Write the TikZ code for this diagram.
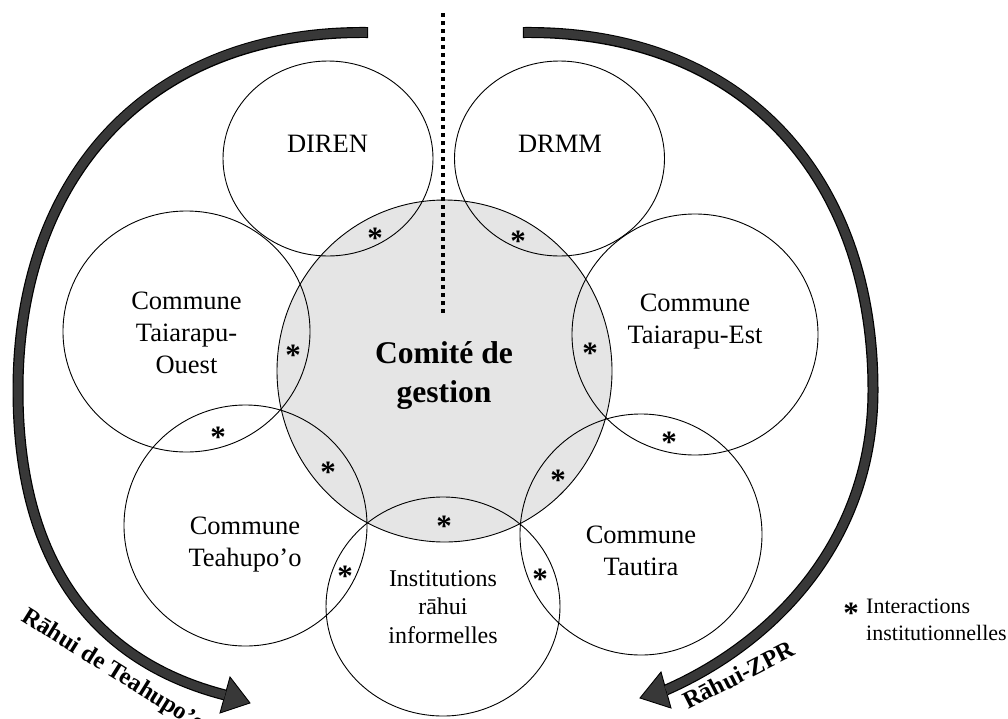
\documentclass[tikz,border=0pt]{standalone}
\usepackage{fontspec}
\setmainfont{Liberation Serif}
\usetikzlibrary{shapes.geometric}
\definecolor{ringgray}{HTML}{E5E5E5}
\definecolor{arrowgray}{HTML}{383838}
\begin{document}
\begin{tikzpicture}[x=1pt,y=-1pt,
  ring/.style={ellipse, draw=black, line width=0.9pt, inner sep=0pt, outer sep=0pt},
  lbl/.style={align=center, anchor=base, inner sep=0pt, font=\fontsize{26.5}{31.8}\selectfont},
  ast/.style={inner sep=0pt, anchor=center, yshift=-5pt, font=\fontsize{31}{31}\selectfont\bfseries},
  rot/.style={inner sep=0pt, font=\fontsize{24.5}{28}\selectfont\bfseries},
  band/.style={line width=8.6pt, draw=arrowgray, preaction={draw=black, line width=11pt, shorten <=-1.2pt}},
  head/.style={fill=arrowgray, draw=black, line width=0.9pt, line join=miter},
  dotline/.style={line width=4pt, dash pattern=on 4pt off 4pt}]
\useasboundingbox (0,0) rectangle (1008,718);
% central committee circle
\node[ring, fill=ringgray, minimum width=335pt, minimum height=342pt] (comite) at (444.5,371) {};
% surrounding circles
\node[ring, minimum width=210pt, minimum height=195pt] (diren) at (328,158.5) {};
\node[ring, minimum width=210pt, minimum height=195pt] (drmm) at (559.5,158.5) {};
\node[ring, minimum width=247pt, minimum height=241pt] (ouest) at (186.5,331.5) {};
\node[ring, minimum width=246pt, minimum height=241pt] (est) at (695,334.5) {};
\node[ring, minimum width=243pt, minimum height=241pt] (teahupoo) at (245.5,525.5) {};
\node[ring, minimum width=242pt, minimum height=241pt] (tautira) at (641,534.5) {};
\node[ring, minimum width=234pt, minimum height=219pt] (inst) at (443,606.5) {};
% dotted divider
\coordinate (dtop) at (443,13);
\coordinate (dbot) at (443,313);
\draw[dotline] (dtop) -- (dbot);
% labels (base = baseline of the last line)
\node[lbl] (t-diren) at (327.5,152.5) {DIREN};
\node[lbl] (t-drmm) at (560,152.5) {DRMM};
\node[lbl] (t-ouest) at (186.5,373.5) {Commune\\Taiarapu-\\Ouest};
\node[lbl] (t-est) at (695,343.3) {Commune\\Taiarapu-Est};
\node[lbl] (t-teahupoo) at (245,566.7) {Commune\\Teahupo’o};
\node[lbl] (t-tautira) at (641,575) {Commune\\Tautira};
\node[lbl, font=\fontsize{24}{28.5}\selectfont] (t-inst) at (443,643) {Institutions\\rāhui\\informelles};
\node[lbl, font=\fontsize{31.6}{39}\selectfont\bfseries] (t-comite) at (444,402) {Comité de\\gestion};
% interaction marks
\node[ast] (a1) at (375,233) {*};
\node[ast] (a2) at (518,236) {*};
\node[ast] (a3) at (293,350) {*};
\node[ast] (a4) at (590,348) {*};
\node[ast] (a5) at (218,432) {*};
\node[ast] (a6) at (328,467) {*};
\node[ast] (a7) at (444,521) {*};
\node[ast] (a8) at (345,571) {*};
\node[ast] (a9) at (669,437) {*};
\node[ast] (a10) at (558,475) {*};
\node[ast] (a11) at (540,574) {*};
% left arrow
\coordinate (ls) at (367,32.5);
\coordinate (lm) at (18,390);
\coordinate (le) at (225,695);
\coordinate (lt) at (250,703);
\coordinate (lb1) at (230,677);
\coordinate (lb2) at (220,713);
\filldraw[head] (lb1) -- (lt) -- (lb2) -- cycle;
\draw[band] (ls) .. controls (150,30) and (18,175) .. (lm)
               .. controls (18,590) and (120,668) .. (le);
% right arrow
\coordinate (rs) at (524,32.5);
\coordinate (rm) at (873,390);
\coordinate (re) at (666,690);
\coordinate (rt) at (640,698);
\coordinate (rb1) at (661,672);
\coordinate (rb2) at (671,708);
\filldraw[head] (rb1) -- (rt) -- (rb2) -- cycle;
\draw[band] (rs) .. controls (741,30) and (873,175) .. (rm)
               .. controls (873,540) and (775,642) .. (re);
% arrow labels
\node[rot, rotate=-32, anchor=base west] (lab-l) at (20,620) {Rāhui de Teahupo’o};
\node[rot, rotate=27, anchor=base west] (lab-r) at (688,710) {Rāhui-ZPR};
% legend
\node[ast] (legast) at (851,608) {*};
\node[anchor=base west, align=left, inner sep=0pt, font=\fontsize{22}{27}\selectfont] (legend) at (866,640) {Interactions\\institutionnelles};
\end{tikzpicture}
\end{document}
